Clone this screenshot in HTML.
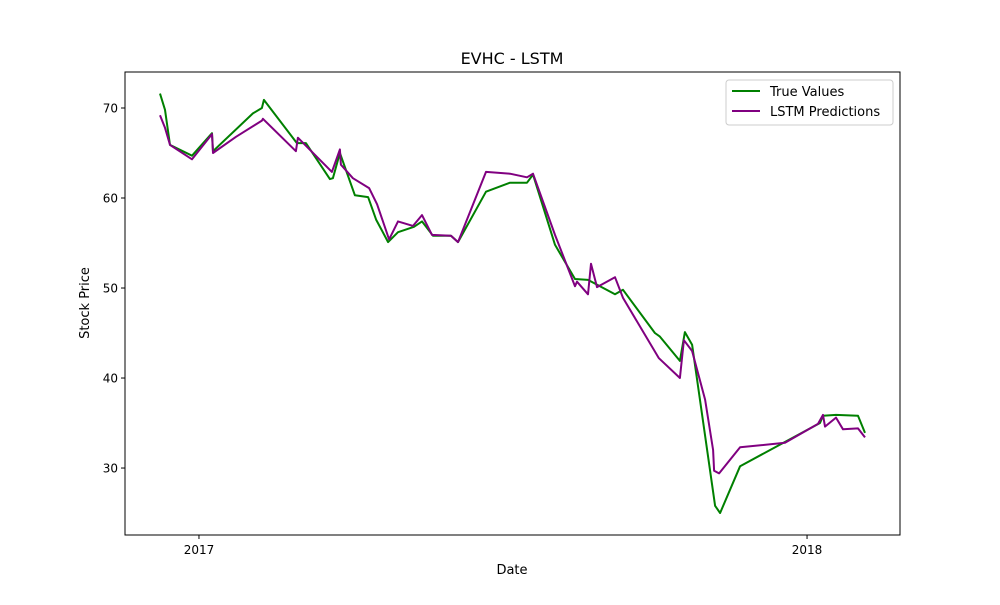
<!DOCTYPE html>
<html><head><meta charset="utf-8"><style>
body{margin:0;background:#fff;font-family:"Liberation Sans","DejaVu Sans",sans-serif}
svg text{font-family:"DejaVu Sans","Liberation Sans",sans-serif}
</style></head><body>
<svg id="chart" width="1000" height="600" xmlns="http://www.w3.org/2000/svg">
<rect width="1000" height="600" fill="#fff"/>
<text x="512" y="64" font-size="16" text-anchor="middle">EVHC - LSTM</text>
<text x="512" y="574" font-size="13" text-anchor="middle">Date</text>
<text x="89" y="303" font-size="13" text-anchor="middle" transform="rotate(-90 89 303)">Stock Price</text>
<g id="ticks"></g>
<g id="series"></g>
<rect x="125" y="72" width="775" height="463" fill="none" stroke="#000" stroke-width="1"/>
<g>
<rect x="726" y="80" width="167" height="45" rx="3" fill="#fff" stroke="#ccc"/>
<line x1="732" y1="91" x2="760" y2="91" stroke="green" stroke-width="2"/>
<text x="770" y="96" font-size="13">True Values</text>
<line x1="732" y1="111" x2="760" y2="111" stroke="purple" stroke-width="2"/>
<text x="770" y="116" font-size="13">LSTM Predictions</text>
</g>
</svg>
<script>
const yTicks=[30,40,50,60,70];
const xTickDays=[0,365];
const xTickLabels=["2017","2018"];
const trueDays=[-23.4,-20.4,-17.4,-4.2,7.8,8.4,32.4,37.8,39.0,58.8,64.2,78.6,80.4,84.6,93.6,101.5,106.3,113.5,119.5,129.1,133.9,140.5,151.3,155.5,172.3,186.7,196.9,200.5,213.7,225.7,233.5,249.7,254.5,273.7,276.7,288.7,291.7,296.0,309.8,312.8,324.8,372.8,374.6,382.4,395.6,399.8];
const trueVals=[71.6,69.8,65.9,64.7,67.2,65.2,69.4,70.0,70.9,66.1,66.1,62.1,62.2,65.0,60.3,60.1,57.6,55.1,56.2,56.8,57.4,55.8,55.8,55.1,60.7,61.7,61.7,62.6,54.8,51.0,50.9,49.3,49.8,45.0,44.6,41.9,45.1,43.7,25.8,25.0,30.2,35.0,35.8,35.9,35.8,33.9];
const predDays=[-23.4,-20.4,-17.4,-4.2,7.8,8.4,22.2,37.8,38.4,58.2,59.4,79.8,84.6,85.2,92.4,102.1,106.9,114.1,119.5,128.5,133.9,139.9,151.3,155.5,172.3,186.7,196.9,200.5,213.7,225.7,226.9,233.5,235.3,238.9,249.7,254.5,276.1,288.7,291.1,296.0,303.8,308.6,309.2,312.2,324.8,351.8,371.6,374.6,375.8,382.4,386.6,395.6,399.8];
const predVals=[69.2,67.8,65.9,64.3,67.1,65.0,66.8,68.6,68.8,65.2,66.7,62.9,65.4,63.7,62.2,61.1,59.3,55.4,57.4,56.9,58.1,55.9,55.8,55.1,62.9,62.7,62.3,62.7,55.9,50.2,50.7,49.3,52.7,50.1,51.2,48.9,42.2,40.0,44.2,43.0,37.6,32.0,29.7,29.4,32.3,32.8,34.9,35.9,34.6,35.6,34.3,34.4,33.4];
const X0=125,X1=900,Y0=72,Y1=535,dMin=-44.4,dMax=420.8,vMin=22.56,vMax=74;
const sx=d=>X0+(d-dMin)/(dMax-dMin)*(X1-X0);
const sy=v=>Y1-(v-vMin)/(vMax-vMin)*(Y1-Y0);
const NS="http://www.w3.org/2000/svg";
const tg=document.getElementById('ticks'),sg=document.getElementById('series');
function mk(t,a,p){const e=document.createElementNS(NS,t);for(const k in a)e.setAttribute(k,a[k]);p.appendChild(e);return e;}
yTicks.forEach(v=>{const y=sy(v);
const l=mk('line',{x1:X0-4,x2:X0,y1:y,y2:y,stroke:'#000'},tg);


const t=mk('text',{x:X0-7,y:y+4.5,'font-size':12,'text-anchor':'end'},tg);t.textContent=v;

});
xTickDays.forEach((d,i)=>{const x=sx(d);
const l=mk('line',{x1:x,x2:x,y1:Y1,y2:Y1+4,stroke:'#000'},tg);


const t=mk('text',{x:x,y:Y1+19,'font-size':12,'text-anchor':'middle'},tg);t.textContent=xTickLabels[i];

});
function line(days,vals,color,name){
const p=mk('polyline',{points:days.map((d,i)=>sx(d).toFixed(1)+','+sy(vals[i]).toFixed(1)).join(' '),fill:'none',stroke:color,'stroke-width':2,'stroke-linejoin':'round'},sg);

}
line(trueDays,trueVals,'green','true-values-line');
line(predDays,predVals,'purple','lstm-predictions-line');
</script>
</body></html>
